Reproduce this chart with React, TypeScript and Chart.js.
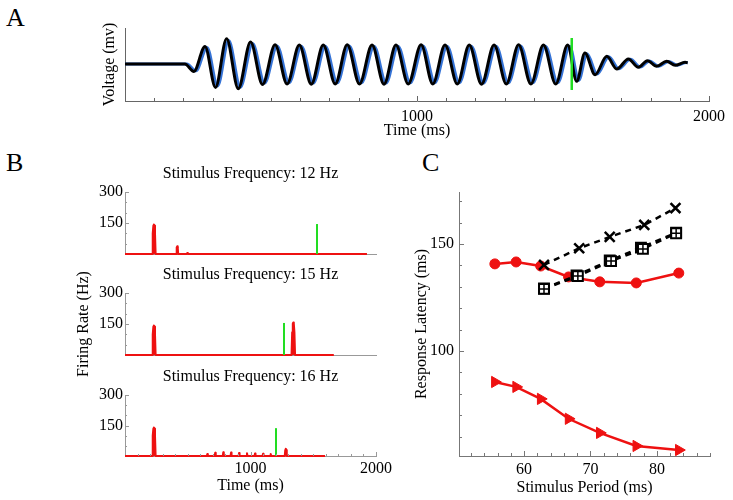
import React, { useEffect, useRef } from 'react';
import { Chart, registerables } from 'chart.js';

Chart.register(...registerables);

const FONT_FAMILY = "'Liberation Serif', 'DejaVu Serif', serif";
const RED = '#ee1111';
const GREEN = '#22dd22';
const BLUE = '#3573d6';

// ---------------- Panel A: voltage trace ----------------
const timeA = [0, 205, 236, 274, 310, 348, 388, 430, 471, 514, 555, 597, 638, 679, 720, 761, 803, 846, 887, 928, 970, 1014, 1054, 1096, 1138, 1179, 1221, 1264, 1306, 1348, 1390, 1433, 1475, 1516, 1547, 1575, 1610, 1650, 1684, 1724, 1758, 1789, 1821, 1855, 1884, 1918, 1927];
const voltResponseA = [0, 0, -7.4, 17.6, -23.4, 25.3, -24.7, 22, -20.5, 19.2, -20, 19, -20.2, 19, -20, 19.2, -20, 19, -20.2, 19, -20, 19.2, -20, 19, -20, 19, -20.2, 19, -20, 19.2, -20, 19, -20, 19, -17.3, 11, -10.7, 7.7, -5, 5, -3.3, 3.3, -2.3, 2.7, -1.3, 1.7, 1.2];
const timeStimA = [0, 212, 243, 281, 317, 355, 395, 437, 478, 521, 562, 604, 645, 686, 727, 768, 810, 853, 894, 935, 977, 1021, 1061, 1103, 1145, 1186, 1228, 1271, 1313, 1355, 1397, 1440, 1482, 1523, 1554, 1582, 1617, 1657, 1691, 1731, 1765, 1796, 1828, 1862, 1891, 1922, 1927];
const voltStimA = [0, 0, -6.8, 16.6, -22, 23.6, -23.2, 20.6, -19, 18, -18.8, 17.8, -19, 17.8, -18.8, 18, -18.8, 17.8, -19, 17.8, -18.8, 18, -18.8, 17.8, -18.8, 17.8, -19, 17.8, -18.8, 18, -18.8, 17.8, -18.8, 17.8, -16.2, 10.2, -10, 7.2, -4.7, 4.7, -3.1, 3.1, -2.2, 2.5, -1.2, 1.5, 1.2];
const markerTimeA = [1530, 1530];
const markerSpanA = [26, -26];
const tickValuesA = [1000, 2000];
const tickLabelsA = ['1000', '2000'];

// ---------------- Panel B: firing rates ----------------
const titlesB = ['Stimulus Frequency: 12 Hz', 'Stimulus Frequency: 15 Hz', 'Stimulus Frequency: 16 Hz'];
const timeB12 = [0, 216, 221, 226, 230, 234, 239, 244, 408, 412, 416, 420, 424, 491, 496, 501, 1928];
const rateB12 = [0, 0, 100, 138, 143, 138, 100, 0, 0, 32, 37, 32, 0, 0, 5, 0, 0];
const stimTimeB12 = [1530, 1530];
const stimRateB12 = [0, 145];
const timeB15 = [0, 216, 221, 226, 230, 234, 239, 244, 1327, 1332, 1337, 1341, 1345, 1350, 1355, 1664];
const rateB15 = [0, 0, 100, 138, 143, 138, 100, 0, 0, 110, 152, 157, 152, 110, 0, 0];
const stimTimeB15 = [1267, 1267];
const stimRateB15 = [0, 155];
const timeB16 = [0, 216, 221, 226, 230, 234, 239, 244, 652, 656, 660, 715, 719, 723, 779, 783, 787, 841, 845, 849, 905, 909, 913, 968, 972, 976, 1032, 1036, 1040, 1096, 1100, 1104, 1157, 1161, 1165, 1273, 1277, 1281, 1285, 1289, 1594];
const rateB16 = [0, 0, 100, 135, 140, 135, 100, 0, 0, 10, 0, 0, 16, 0, 0, 18, 0, 0, 17, 0, 0, 15, 0, 0, 14, 0, 0, 12, 0, 0, 11, 0, 0, 10, 0, 0, 30, 36, 30, 0, 0];
const stimTimeB16 = [1203, 1203];
const stimRateB16 = [0, 137];
const tickValuesBy = [150, 300];
const tickLabelsBy = ['150', '300'];
const tickValuesBx = [1000, 2000];
const tickLabelsBx = ['1000', '2000'];

// ---------------- Panel C: response latency ----------------
const periodModel = [55.6, 58.8, 62.5, 66.7, 71.4, 76.9, 83.3];
const latencyCircle = [140.7, 141.6, 139.7, 134.6, 132.3, 131.8, 136.4];
const latencyTriangle = [85.5, 83.2, 77.6, 68.3, 61.7, 55.6, 53.7];
const periodCross = [63.0, 68.3, 72.9, 78.1, 82.8];
const latencyCross = [140.2, 148.0, 153.3, 158.9, 166.8];
const periodBoxPlus = [63.0, 68.1, 73.1, 77.9, 82.9];
const latencyBoxPlus = [129.0, 135.0, 142.0, 147.7, 155.0];
const periodBox = [63.0, 67.9, 72.9, 77.6, 82.9];
const latencyBox = [129.2, 135.3, 142.3, 148.3, 155.3];
const tickValuesCx = [60, 70, 80];
const tickLabelsCx = ['60', '70', '80'];
const tickValuesCy = [100, 150];
const tickLabelsCy = ['100', '150'];

// ---------------- helpers ----------------
const font = (size: number, lh = 1.2) => ({ family: FONT_FAMILY, size, lineHeight: lh, weight: 'normal' });
const pts = (xs: number[], ys: number[]) => xs.map((x, i) => ({ x, y: ys[i] }));

type TickSpec = { axis: string; from: number; to: number; step: number; major: number[]; minorLen: number; majorLen: number; color: string };

function innerTicks(specs: TickSpec[]) {
  return {
    id: 'innerTicks',
    afterDraw(chart: any) {
      const ctx = chart.ctx;
      ctx.save();
      ctx.lineWidth = 1;
      for (const s of specs) {
        const scale = chart.scales[s.axis];
        ctx.strokeStyle = s.color;
        ctx.beginPath();
        const n = Math.round((s.to - s.from) / s.step);
        for (let k = 0; k <= n; k++) {
          const v = s.from + k * s.step;
          const major = s.major.some((m) => Math.abs(m - v) < 1e-6);
          const len = major ? s.majorLen : s.minorLen;
          if (scale.isHorizontal()) {
            const x = Math.round(scale.getPixelForValue(v)) + 0.5;
            const y = scale.top;
            ctx.moveTo(x, y);
            ctx.lineTo(x, y - len);
          } else {
            const y = Math.round(scale.getPixelForValue(v)) + 0.5;
            const x = scale.right;
            ctx.moveTo(x, y);
            ctx.lineTo(x + len, y);
          }
        }
        ctx.stroke();
      }
      ctx.restore();
    },
  };
}

type AxisOpts = {
  min: number; max: number; size: number; horizontal: boolean;
  values?: number[]; labels?: string[]; pad?: number; title?: string; border: string;
};

function axis(o: AxisOpts) {
  const cfg: any = {
    type: 'linear',
    min: o.min,
    max: o.max,
    afterFit: (s: any) => {
      if (o.horizontal) s.height = o.size;
      else s.width = o.size;
    },
    grid: { display: true, drawOnChartArea: false, drawTicks: false },
    border: { display: true, color: o.border, width: 1 },
    ticks: {
      display: !!o.values,
      autoSkip: false,
      maxRotation: 0,
      padding: o.pad ?? 3,
      color: '#000',
      font: font(16),
      callback: (v: number) => {
        const vals = o.values || [];
        const i = vals.indexOf(v);
        return i >= 0 ? (o.labels as string[])[i] : '';
      },
    },
    title: {
      display: !!o.title,
      text: o.title || '',
      color: '#000',
      font: font(16),
      padding: { top: 0, bottom: 0 },
    },
  };
  if (o.values) {
    const vals = o.values;
    cfg.afterBuildTicks = (s: any) => {
      s.ticks = vals.map((v) => ({ value: v }));
    };
  }
  return cfg;
}

const baseOptions = (padding: any) => ({
  responsive: false,
  animation: false,
  devicePixelRatio: 1,
  events: [],
  layout: { padding, autoPadding: false },
});

// ---------------- chart configs ----------------
function configA() {
  return {
    type: 'line',
    data: {
      datasets: [
        { label: 'Stimulus end', data: pts(markerTimeA, markerSpanA), borderColor: GREEN, borderWidth: 2.5, pointRadius: 0, order: -1, clip: false },
        { label: 'Response', data: pts(timeA, voltResponseA), borderColor: '#000', borderWidth: 3, pointRadius: 0, cubicInterpolationMode: 'monotone', borderJoinStyle: 'round', order: 0, clip: false },
        { label: 'Stimulus', data: pts(timeStimA, voltStimA), borderColor: BLUE, borderWidth: 3, pointRadius: 0, cubicInterpolationMode: 'monotone', borderJoinStyle: 'round', order: 1, clip: false },
      ],
    },
    options: {
      ...baseOptions({ left: 0, top: 28, right: 24, bottom: 0 }),
      plugins: { legend: { display: false }, tooltip: { enabled: false }, title: { display: false } },
      scales: {
        x: axis({ min: 0, max: 2000, size: 39, horizontal: true, values: tickValuesA, labels: tickLabelsA, pad: 6, title: 'Time (ms)', border: '#666' }),
        y: axis({ min: -37, max: 36, size: 25, horizontal: false, title: 'Voltage (mv)', border: '#666' }),
      },
    },
    plugins: [innerTicks([{ axis: 'x', from: 100, to: 2000, step: 100, major: [1000, 2000], minorLen: 3, majorLen: 5, color: '#666' }])],
  };
}

function configB(title: string, times: number[], rates: number[], stimT: number[], stimR: number[], bottom: boolean, yTitle: boolean, padBottom: number) {
  const specs: TickSpec[] = [{ axis: 'y', from: 50, to: 300, step: 50, major: [150, 300], minorLen: 2, majorLen: 4, color: '#999' }];
  if (bottom) specs.push({ axis: 'x', from: 100, to: 2000, step: 100, major: [1000, 2000], minorLen: 2, majorLen: 4, color: '#999' });
  return {
    type: 'line',
    data: {
      datasets: [
        { label: 'Stimulus end', data: pts(stimT, stimR), borderColor: GREEN, borderWidth: 2, pointRadius: 0, order: -1, clip: false },
        { label: 'Firing rate', data: pts(times, rates), borderColor: RED, backgroundColor: RED, fill: 'origin', borderWidth: 2, borderJoinStyle: 'round', pointRadius: 0, order: 0, clip: false },
      ],
    },
    options: {
      ...baseOptions({ left: 0, top: 0, right: 24, bottom: padBottom }),
      plugins: {
        legend: { display: false },
        tooltip: { enabled: false },
        filler: { propagate: false },
        title: { display: true, text: title, color: '#000', font: font(16, 1.25), padding: { top: 0, bottom: 8 }, fullSize: false },
      },
      scales: {
        x: bottom
          ? axis({ min: 0, max: 2000, size: 39, horizontal: true, values: tickValuesBx, labels: tickLabelsBx, pad: 3, title: 'Time (ms)', border: '#999' })
          : axis({ min: 0, max: 2000, size: 12, horizontal: true, border: '#999' }),
        y: axis({ min: 0, max: 300, size: 51, horizontal: false, values: tickValuesBy, labels: tickLabelsBy, pad: 2, title: yTitle ? 'Firing Rate (Hz)' : undefined, border: '#999' }),
      },
    },
    plugins: [innerTicks(specs)],
  };
}

function configC() {
  return {
    type: 'line',
    data: {
      datasets: [
        { label: 'Data A', data: pts(periodCross, latencyCross), borderColor: '#000', borderWidth: 2.5, borderDash: [6, 5], pointStyle: 'crossRot', pointRadius: 7, pointBorderWidth: 2.5, pointBorderColor: '#000', order: 0, clip: false },
        { label: 'Data B plus', data: pts(periodBoxPlus, latencyBoxPlus), showLine: false, pointStyle: 'cross', pointRadius: 4.5, pointBorderWidth: 1.5, pointBorderColor: '#000', order: -2, clip: false },
        { label: 'Data B', data: pts(periodBoxPlus, latencyBoxPlus), borderColor: '#000', borderWidth: 2.5, borderDash: [6, 5], pointStyle: 'rect', pointRadius: 7, pointBorderWidth: 2, pointBorderColor: '#000', pointBackgroundColor: '#fff', order: -1, clip: false },
        { label: 'Data C', data: pts(periodBox, latencyBox), borderColor: '#000', borderWidth: 2.5, borderDash: [6, 5], pointStyle: 'rect', pointRadius: 7, pointBorderWidth: 2, pointBorderColor: '#000', pointBackgroundColor: 'rgba(255,255,255,0)', order: 1, clip: false },
        { label: 'Model latency', data: pts(periodModel, latencyCircle), borderColor: RED, borderWidth: 2.5, pointStyle: 'circle', pointRadius: 5, pointBorderWidth: 1, pointBorderColor: RED, pointBackgroundColor: RED, order: 2, clip: false },
        { label: 'Model onset', data: pts(periodModel, latencyTriangle), borderColor: RED, borderWidth: 2.5, pointStyle: 'triangle', pointRotation: 90, pointRadius: 6.5, pointBorderWidth: 1, pointBorderColor: RED, pointBackgroundColor: RED, order: 3, clip: false },
      ],
    },
    options: {
      ...baseOptions({ left: 0, top: 22, right: 23, bottom: 0 }),
      plugins: { legend: { display: false }, tooltip: { enabled: false }, title: { display: false } },
      scales: {
        x: axis({ min: 50.2, max: 88, size: 41, horizontal: true, values: tickValuesCx, labels: tickLabelsCx, pad: 4, title: 'Stimulus Period (ms)', border: '#777' }),
        y: axis({ min: 50.9, max: 174.3, size: 47, horizontal: false, values: tickValuesCy, labels: tickLabelsCy, pad: 5, title: 'Response Latency (ms)', border: '#777' }),
      },
    },
    plugins: [innerTicks([
      { axis: 'x', from: 52, to: 88, step: 2, major: [60, 70, 80], minorLen: 3, majorLen: 5, color: '#777' },
      { axis: 'y', from: 60, to: 170, step: 10, major: [100, 150], minorLen: 3, majorLen: 5, color: '#777' },
    ])],
  };
}

// ---------------- components ----------------
function ChartBox(props: { left: number; top: number; width: number; height: number; make: () => any }) {
  const ref = useRef<HTMLCanvasElement>(null);
  useEffect(() => {
    const chart = new Chart(ref.current as HTMLCanvasElement, props.make());
    return () => chart.destroy();
  }, []);
  return (
    <canvas
      ref={ref}
      width={props.width}
      height={props.height}
      style={{ position: 'absolute', left: props.left, top: props.top, width: props.width, height: props.height }}
    />
  );
}

const letterStyle = (left: number, top: number): React.CSSProperties => ({
  position: 'absolute', left, top, fontFamily: FONT_FAMILY, fontSize: 26, lineHeight: '26px', color: '#000',
});

export default function App() {
  return (
    <div style={{ position: 'absolute', left: 0, top: 0, width: 733, height: 500, background: '#fff', overflow: 'hidden' }}>
      <div style={letterStyle(6, 5)}>A</div>
      <div style={letterStyle(6, 150)}>B</div>
      <div style={letterStyle(422, 150)}>C</div>
      <ChartBox left={100} top={0} width={633} height={140} make={configA} />
      <ChartBox left={74} top={164} width={326} height={102} make={() => configB(titlesB[0], timeB12, rateB12, stimTimeB12, stimRateB12, false, false, 0)} />
      <ChartBox left={74} top={367} width={326} height={128} make={() => configB(titlesB[2], timeB16, rateB16, stimTimeB16, stimRateB16, true, false, 0)} />
      <ChartBox left={74} top={265} width={326} height={142} make={() => configB(titlesB[1], timeB15, rateB15, stimTimeB15, stimRateB15, false, true, 40)} />
      <ChartBox left={412} top={170} width={321} height={327} make={configC} />
    </div>
  );
}
